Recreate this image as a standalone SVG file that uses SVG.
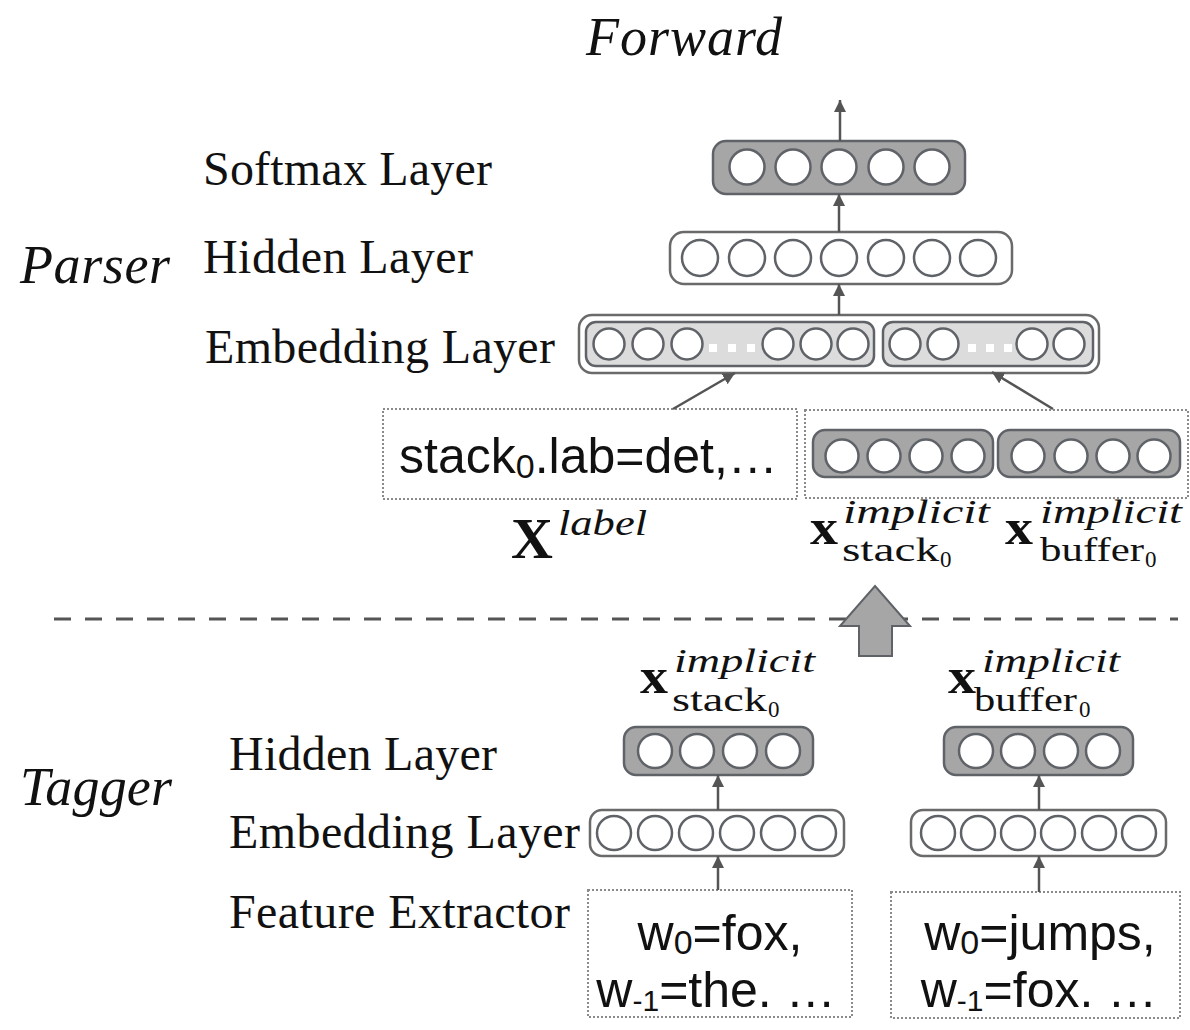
<svg xmlns="http://www.w3.org/2000/svg" width="1190" height="1030" viewBox="0 0 1190 1030">
  <defs>
    <marker id="ah" markerUnits="userSpaceOnUse" markerWidth="12" markerHeight="12" viewBox="0 0 10 10" refX="10" refY="5" orient="auto">
      <path d="M0,0 L10,5 L0,10 z" fill="#555"/>
    </marker>
  </defs>
  <style>
    .lbl { font-family: "Liberation Serif", "Times New Roman", serif; font-size: 48px; fill: #111; }
    .side { font-family: "Liberation Serif", "Times New Roman", serif; font-style: italic; font-size: 54px; fill: #111; }
    .feat { font-family: "Liberation Sans", Arial, sans-serif; font-size: 50px; fill: #111; }
    .sub { font-size: 34px; }
    .sub2 { font-size: 30px; }
    .bx { font-family: "Liberation Serif", serif; font-weight: bold; fill: #111; }
    .it { font-family: "Liberation Serif", serif; font-style: italic; fill: #111; }
    .rm { font-family: "Liberation Serif", serif; fill: #111; }
    .dark { fill: #a6a6a6; stroke: #5f6368; stroke-width: 2.5; }
    .light { fill: #dcdcdc; stroke: #5f6368; stroke-width: 2.5; }
    .open { fill: #fff; stroke: #6a6a6a; stroke-width: 2.5; }
    .unit { fill: #fff; stroke: #5f6368; stroke-width: 2.5; }
    .dot { fill: #fff; stroke: none; }
    .feat-box { fill: #fff; stroke: #8a8a8a; stroke-width: 2; stroke-dasharray: 2 2; }
    .conn { stroke: #555; stroke-width: 2.5; fill: none; marker-end: url(#ah); }
  </style>

  <!-- headings and layer names -->
  <text class="side" x="586" y="55" textLength="196">Forward</text>
  <text class="side" x="20" y="283" textLength="150">Parser</text>
  <text class="side" x="20" y="805" textLength="152">Tagger</text>

  <text class="lbl" x="203" y="185" textLength="289">Softmax Layer</text>
  <text class="lbl" x="203" y="273" textLength="270">Hidden Layer</text>
  <text class="lbl" x="205" y="363" textLength="350">Embedding Layer</text>

  <text class="lbl" x="229" y="770" textLength="268">Hidden Layer</text>
  <text class="lbl" x="229" y="848" textLength="351">Embedding Layer</text>
  <text class="lbl" x="229" y="928" textLength="341">Feature Extractor</text>

  <!-- parser / tagger divider -->
  <line x1="54" y1="619" x2="1178" y2="619" stroke="#555" stroke-width="3" stroke-dasharray="17 14"/>

  <!-- parser softmax layer -->
  <g id="parser-softmax">
    <rect class="dark" x="713" y="141" width="252" height="53" rx="13"/>
    <circle class="unit" cx="747" cy="167" r="17.5"/>
    <circle class="unit" cx="793" cy="167" r="17.5"/>
    <circle class="unit" cx="839" cy="167" r="17.5"/>
    <circle class="unit" cx="886" cy="167" r="17.5"/>
    <circle class="unit" cx="932" cy="167" r="17.5"/>
  </g>

  <!-- parser hidden layer -->
  <g id="parser-hidden">
    <rect class="open" x="670" y="232" width="342" height="52" rx="14"/>
    <circle class="unit" cx="700" cy="258" r="18"/>
    <circle class="unit" cx="747" cy="258" r="18"/>
    <circle class="unit" cx="793" cy="258" r="18"/>
    <circle class="unit" cx="839" cy="258" r="18"/>
    <circle class="unit" cx="886" cy="258" r="18"/>
    <circle class="unit" cx="932" cy="258" r="18"/>
    <circle class="unit" cx="978" cy="258" r="18"/>
  </g>

  <!-- parser embedding layer: label part and implicit part -->
  <g id="parser-embedding">
    <rect class="open" x="579" y="315" width="520" height="58" rx="13"/>
    <rect class="light" x="586" y="322" width="288" height="44" rx="10"/>
    <rect class="light" x="883" y="322" width="210" height="44" rx="10"/>
    <circle class="unit" cx="609" cy="344" r="15.5"/>
    <circle class="unit" cx="648" cy="344" r="15.5"/>
    <circle class="unit" cx="687" cy="344" r="15.5"/>
    <rect class="dot" x="709" y="344" width="8" height="8"/>
    <rect class="dot" x="728" y="344" width="8" height="8"/>
    <rect class="dot" x="747" y="344" width="8" height="8"/>
    <circle class="unit" cx="778" cy="344" r="15.5"/>
    <circle class="unit" cx="816" cy="344" r="15.5"/>
    <circle class="unit" cx="853" cy="344" r="15.5"/>
    <circle class="unit" cx="905" cy="344" r="15.5"/>
    <circle class="unit" cx="943" cy="344" r="15.5"/>
    <rect class="dot" x="968" y="344" width="8" height="8"/>
    <rect class="dot" x="986" y="344" width="8" height="8"/>
    <rect class="dot" x="1004" y="344" width="8" height="8"/>
    <circle class="unit" cx="1032" cy="344" r="15.5"/>
    <circle class="unit" cx="1069" cy="344" r="15.5"/>
  </g>

  <!-- parser input: label features -->
  <g id="parser-label-input">
    <rect class="feat-box" x="383" y="409" width="414" height="90"/>
    <text class="feat" x="399" y="473">stack<tspan class="sub" dy="5">0</tspan><tspan dy="-5">.lab=det,…</tspan></text>
    <text class="bx" x="511" y="558" font-size="58">X</text>
    <text class="it" x="558" y="535" font-size="35" textLength="89" lengthAdjust="spacingAndGlyphs">label</text>
  </g>

  <!-- parser input: implicit tagger representations -->
  <g id="parser-implicit-input">
    <rect class="feat-box" x="805" y="410" width="383" height="88"/>
    <rect class="dark" x="813" y="430" width="180" height="47" rx="12"/>
    <circle class="unit" cx="842" cy="456" r="16.5"/>
    <circle class="unit" cx="884" cy="456" r="16.5"/>
    <circle class="unit" cx="926" cy="456" r="16.5"/>
    <circle class="unit" cx="968" cy="456" r="16.5"/>
    <rect class="dark" x="998" y="430" width="182" height="47" rx="12"/>
    <circle class="unit" cx="1028" cy="456" r="16.5"/>
    <circle class="unit" cx="1071" cy="456" r="16.5"/>
    <circle class="unit" cx="1113" cy="456" r="16.5"/>
    <circle class="unit" cx="1154" cy="456" r="16.5"/>
    <text class="bx" x="810" y="544" font-size="50" textLength="28" lengthAdjust="spacingAndGlyphs">x</text>
    <text class="it" x="843" y="523" font-size="33" textLength="147" lengthAdjust="spacingAndGlyphs">implicit</text>
    <text class="rm" x="842" y="561" font-size="33" textLength="97" lengthAdjust="spacingAndGlyphs">stack</text>
    <text class="rm" x="940" y="567" font-size="23">0</text>
    <text class="bx" x="1005" y="544" font-size="50" textLength="28" lengthAdjust="spacingAndGlyphs">x</text>
    <text class="it" x="1040" y="523" font-size="33" textLength="142" lengthAdjust="spacingAndGlyphs">implicit</text>
    <text class="rm" x="1040" y="561" font-size="33" textLength="104" lengthAdjust="spacingAndGlyphs">buffer</text>
    <text class="rm" x="1145" y="567" font-size="23">0</text>
  </g>

  <!-- tagger for stack0 -->
  <g id="tagger-stack">
    <text class="bx" x="640" y="693" font-size="50" textLength="28" lengthAdjust="spacingAndGlyphs">x</text>
    <text class="it" x="674" y="672" font-size="33" textLength="141" lengthAdjust="spacingAndGlyphs">implicit</text>
    <text class="rm" x="672" y="711" font-size="33" textLength="95" lengthAdjust="spacingAndGlyphs">stack</text>
    <text class="rm" x="768" y="717" font-size="23">0</text>
    <rect class="dark" x="624" y="727" width="189" height="48" rx="12"/>
    <circle class="unit" cx="655" cy="751" r="17"/>
    <circle class="unit" cx="697" cy="751" r="17"/>
    <circle class="unit" cx="740" cy="751" r="17"/>
    <circle class="unit" cx="783" cy="751" r="17"/>
    <rect class="open" x="590" y="810" width="254" height="46" rx="12"/>
    <circle class="unit" cx="614" cy="833" r="17"/>
    <circle class="unit" cx="655" cy="833" r="17"/>
    <circle class="unit" cx="696" cy="833" r="17"/>
    <circle class="unit" cx="737" cy="833" r="17"/>
    <circle class="unit" cx="778" cy="833" r="17"/>
    <circle class="unit" cx="819" cy="833" r="17"/>
    <rect class="feat-box" x="588" y="890" width="264" height="127"/>
    <text class="feat" x="720" y="950" text-anchor="middle">w<tspan class="sub" dy="4">0</tspan><tspan dy="-4">=fox,</tspan></text>
    <text class="feat" x="716" y="1007" text-anchor="middle">w<tspan class="sub2" dy="4">-1</tspan><tspan dy="-4">=the. …</tspan></text>
  </g>

  <!-- tagger for buffer0 -->
  <g id="tagger-buffer">
    <text class="bx" x="948" y="693" font-size="50" textLength="28" lengthAdjust="spacingAndGlyphs">x</text>
    <text class="it" x="982" y="672" font-size="33" textLength="138" lengthAdjust="spacingAndGlyphs">implicit</text>
    <text class="rm" x="974" y="711" font-size="33" textLength="103" lengthAdjust="spacingAndGlyphs">buffer</text>
    <text class="rm" x="1079" y="717" font-size="23">0</text>
    <rect class="dark" x="944" y="727" width="189" height="48" rx="12"/>
    <circle class="unit" cx="976" cy="751" r="17"/>
    <circle class="unit" cx="1018" cy="751" r="17"/>
    <circle class="unit" cx="1061" cy="751" r="17"/>
    <circle class="unit" cx="1103" cy="751" r="17"/>
    <rect class="open" x="911" y="810" width="255" height="46" rx="12"/>
    <circle class="unit" cx="938" cy="833" r="17"/>
    <circle class="unit" cx="978" cy="833" r="17"/>
    <circle class="unit" cx="1018" cy="833" r="17"/>
    <circle class="unit" cx="1058" cy="833" r="17"/>
    <circle class="unit" cx="1099" cy="833" r="17"/>
    <circle class="unit" cx="1139" cy="833" r="17"/>
    <rect class="feat-box" x="891" y="892" width="289" height="126"/>
    <text class="feat" x="1040" y="950" text-anchor="middle">w<tspan class="sub" dy="4">0</tspan><tspan dy="-4">=jumps,</tspan></text>
    <text class="feat" x="1039" y="1007" text-anchor="middle">w<tspan class="sub2" dy="4">-1</tspan><tspan dy="-4">=fox. …</tspan></text>
  </g>

  <!-- connectors -->
  <g id="connectors">
    <line class="conn" x1="840" y1="141" x2="840" y2="100"/>
    <line class="conn" x1="839" y1="232" x2="839" y2="194"/>
    <line class="conn" x1="839" y1="315" x2="839" y2="284"/>
    <line class="conn" x1="673" y1="409" x2="735" y2="373"/>
    <line class="conn" x1="1053" y1="409" x2="992" y2="372"/>
    <line class="conn" x1="718" y1="810" x2="718" y2="775"/>
    <line class="conn" x1="718" y1="890" x2="718" y2="856"/>
    <line class="conn" x1="1039" y1="810" x2="1039" y2="775"/>
    <line class="conn" x1="1039" y1="892" x2="1039" y2="856"/>
    <!-- tagger output handed up to the parser -->
    <path d="M875,586 L910,626 L892,626 L892,656 L859,656 L859,626 L840,626 Z" fill="#a6a6a6" stroke="#5f6368" stroke-width="2"/>
  </g>
</svg>
